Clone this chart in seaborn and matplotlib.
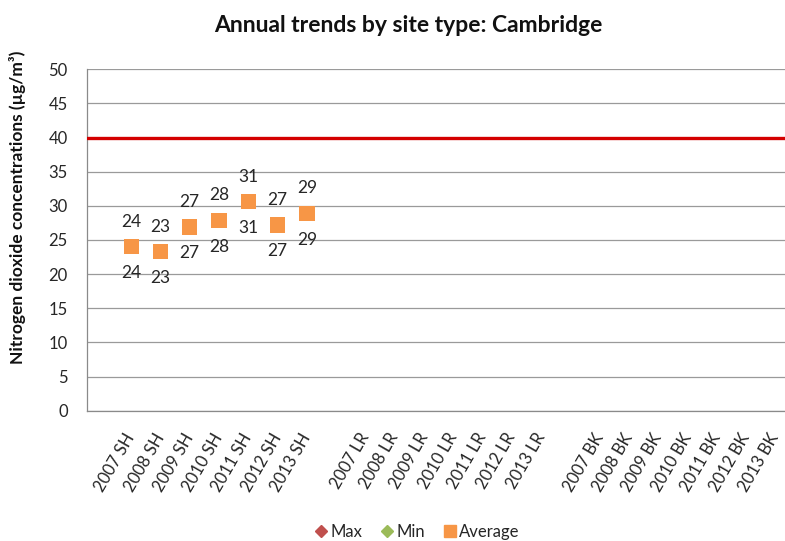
import numpy as np
import pandas as pd
import matplotlib
matplotlib.use('Agg')
import matplotlib.pyplot as plt
import matplotlib.transforms as mtransforms
from matplotlib.lines import Line2D
import seaborn as sns

# %% data
sh_labels = ['2007 SH', '2008 SH', '2009 SH', '2010 SH', '2011 SH', '2012 SH', '2013 SH']
lr_labels = ['2007 LR', '2008 LR', '2009 LR', '2010 LR', '2011 LR', '2012 LR', '2013 LR']
bk_labels = ['2007 BK', '2008 BK', '2009 BK', '2010 BK', '2011 BK', '2012 BK', '2013 BK']
axis_labels = [''] + sh_labels + [''] + lr_labels + [''] + bk_labels

sh_average = [24.0, 23.3, 26.9, 27.9, 30.6, 27.2, 28.9]
sh_max = [24.0, 23.3, 26.9, 27.9, 30.6, 27.2, 28.9]
sh_min = [24.0, 23.3, 26.9, 27.9, 30.6, 27.2, 28.9]
objective = 40

# %% build data frame on category positions
pos = [axis_labels.index(c) for c in sh_labels]
df = pd.DataFrame({'site': sh_labels, 'pos': pos,
                   'Max': sh_max, 'Min': sh_min, 'Average': sh_average})

# %% plot
sns.set_style('white')
plt.rcParams['font.family'] = ['Lato', 'DejaVu Sans']
txt_col = '#262626'
c_max, c_min, c_avg = '#C0504D', '#9BBB59', '#F79646'

fig = plt.figure(figsize=(7.85, 5.41), dpi=100)
ax = fig.add_axes([87.3 / 785, 1 - 410.7 / 541, (790 - 87.3) / 785, (410.7 - 69.3) / 541])

ax.axhline(objective, color='#D40000', lw=2.4, zorder=3)
sns.scatterplot(data=df, x='pos', y='Max', marker='D', color=c_max, s=40,
                edgecolor='none', ax=ax, zorder=4, legend=False)
sns.scatterplot(data=df, x='pos', y='Min', marker='D', color=c_min, s=40,
                edgecolor='none', ax=ax, zorder=4, legend=False)
sns.scatterplot(data=df, x='pos', y='Average', marker='s', color=c_avg, s=120,
                edgecolor='none', ax=ax, zorder=5, legend=False)

for _, r in df.iterrows():
    ax.annotate(f"{r['Max']:.0f}", (r['pos'], r['Max']), xytext=(0, 18),
                textcoords='offset points', ha='center', va='center',
                fontsize=12.5, color=txt_col)
    ax.annotate(f"{r['Min']:.0f}", (r['pos'], r['Min']), xytext=(0, -19),
                textcoords='offset points', ha='center', va='center',
                fontsize=12.5, color=txt_col)

ax.set_xlim(-0.5, len(axis_labels) - 0.5)
ax.set_ylim(0, 50)
ax.set_yticks(np.arange(0, 51, 5))
ax.yaxis.grid(True, color='#9a9a9a', lw=0.9)
ax.set_axisbelow(True)
ax.set_xticks(np.arange(len(axis_labels)))
ax.set_xticklabels(axis_labels, rotation=60, ha='right', va='center',
                   rotation_mode='anchor', fontsize=12, color=txt_col)
shift = mtransforms.ScaledTranslation(5 / 100, 0, fig.dpi_scale_trans)
for lab in ax.get_xticklabels():
    lab.set_transform(lab.get_transform() + shift)
ax.set_xticks(np.arange(len(axis_labels) + 1) - 0.5, minor=True)
ax.tick_params(axis='x', which='major', length=0, pad=17)
ax.tick_params(axis='x', which='minor', length=5, color='#8a8a8a', width=0.9)
ax.tick_params(axis='y', length=5, color='#9a9a9a', width=0.9, labelsize=12,
               labelcolor=txt_col, pad=9)
for s in ['top', 'right']:
    ax.spines[s].set_visible(False)
for s in ['left', 'bottom']:
    ax.spines[s].set_color('#8a8a8a')
    ax.spines[s].set_linewidth(0.9)
ax.set_xlabel('')
ax.set_ylabel('')

fig.text(408 / 785, 1 - 25 / 541, 'Annual trends by site type: Cambridge',
         ha='center', va='center', fontsize=16.5, fontweight='bold', color='#111111')
fig.text(18 / 785, 1 - 207 / 541, 'Nitrogen dioxide concentrations (µg/m³)',
         rotation=90, ha='center', va='center', fontsize=12.5,
         fontweight='bold', color='#111111')

handles = [Line2D([], [], marker='D', ls='none', color=c_max, markersize=6, label='Max'),
           Line2D([], [], marker='D', ls='none', color=c_min, markersize=6, label='Min'),
           Line2D([], [], marker='s', ls='none', color=c_avg, markersize=9, label='Average')]
fig.legend(handles=handles, loc='center', bbox_to_anchor=(416 / 785, 1 - 532 / 541),
           ncol=3, frameon=False, fontsize=12, handletextpad=0.05, handlelength=1.0,
           columnspacing=1.0, labelcolor=txt_col)

fig.savefig('out.png', dpi=100)
